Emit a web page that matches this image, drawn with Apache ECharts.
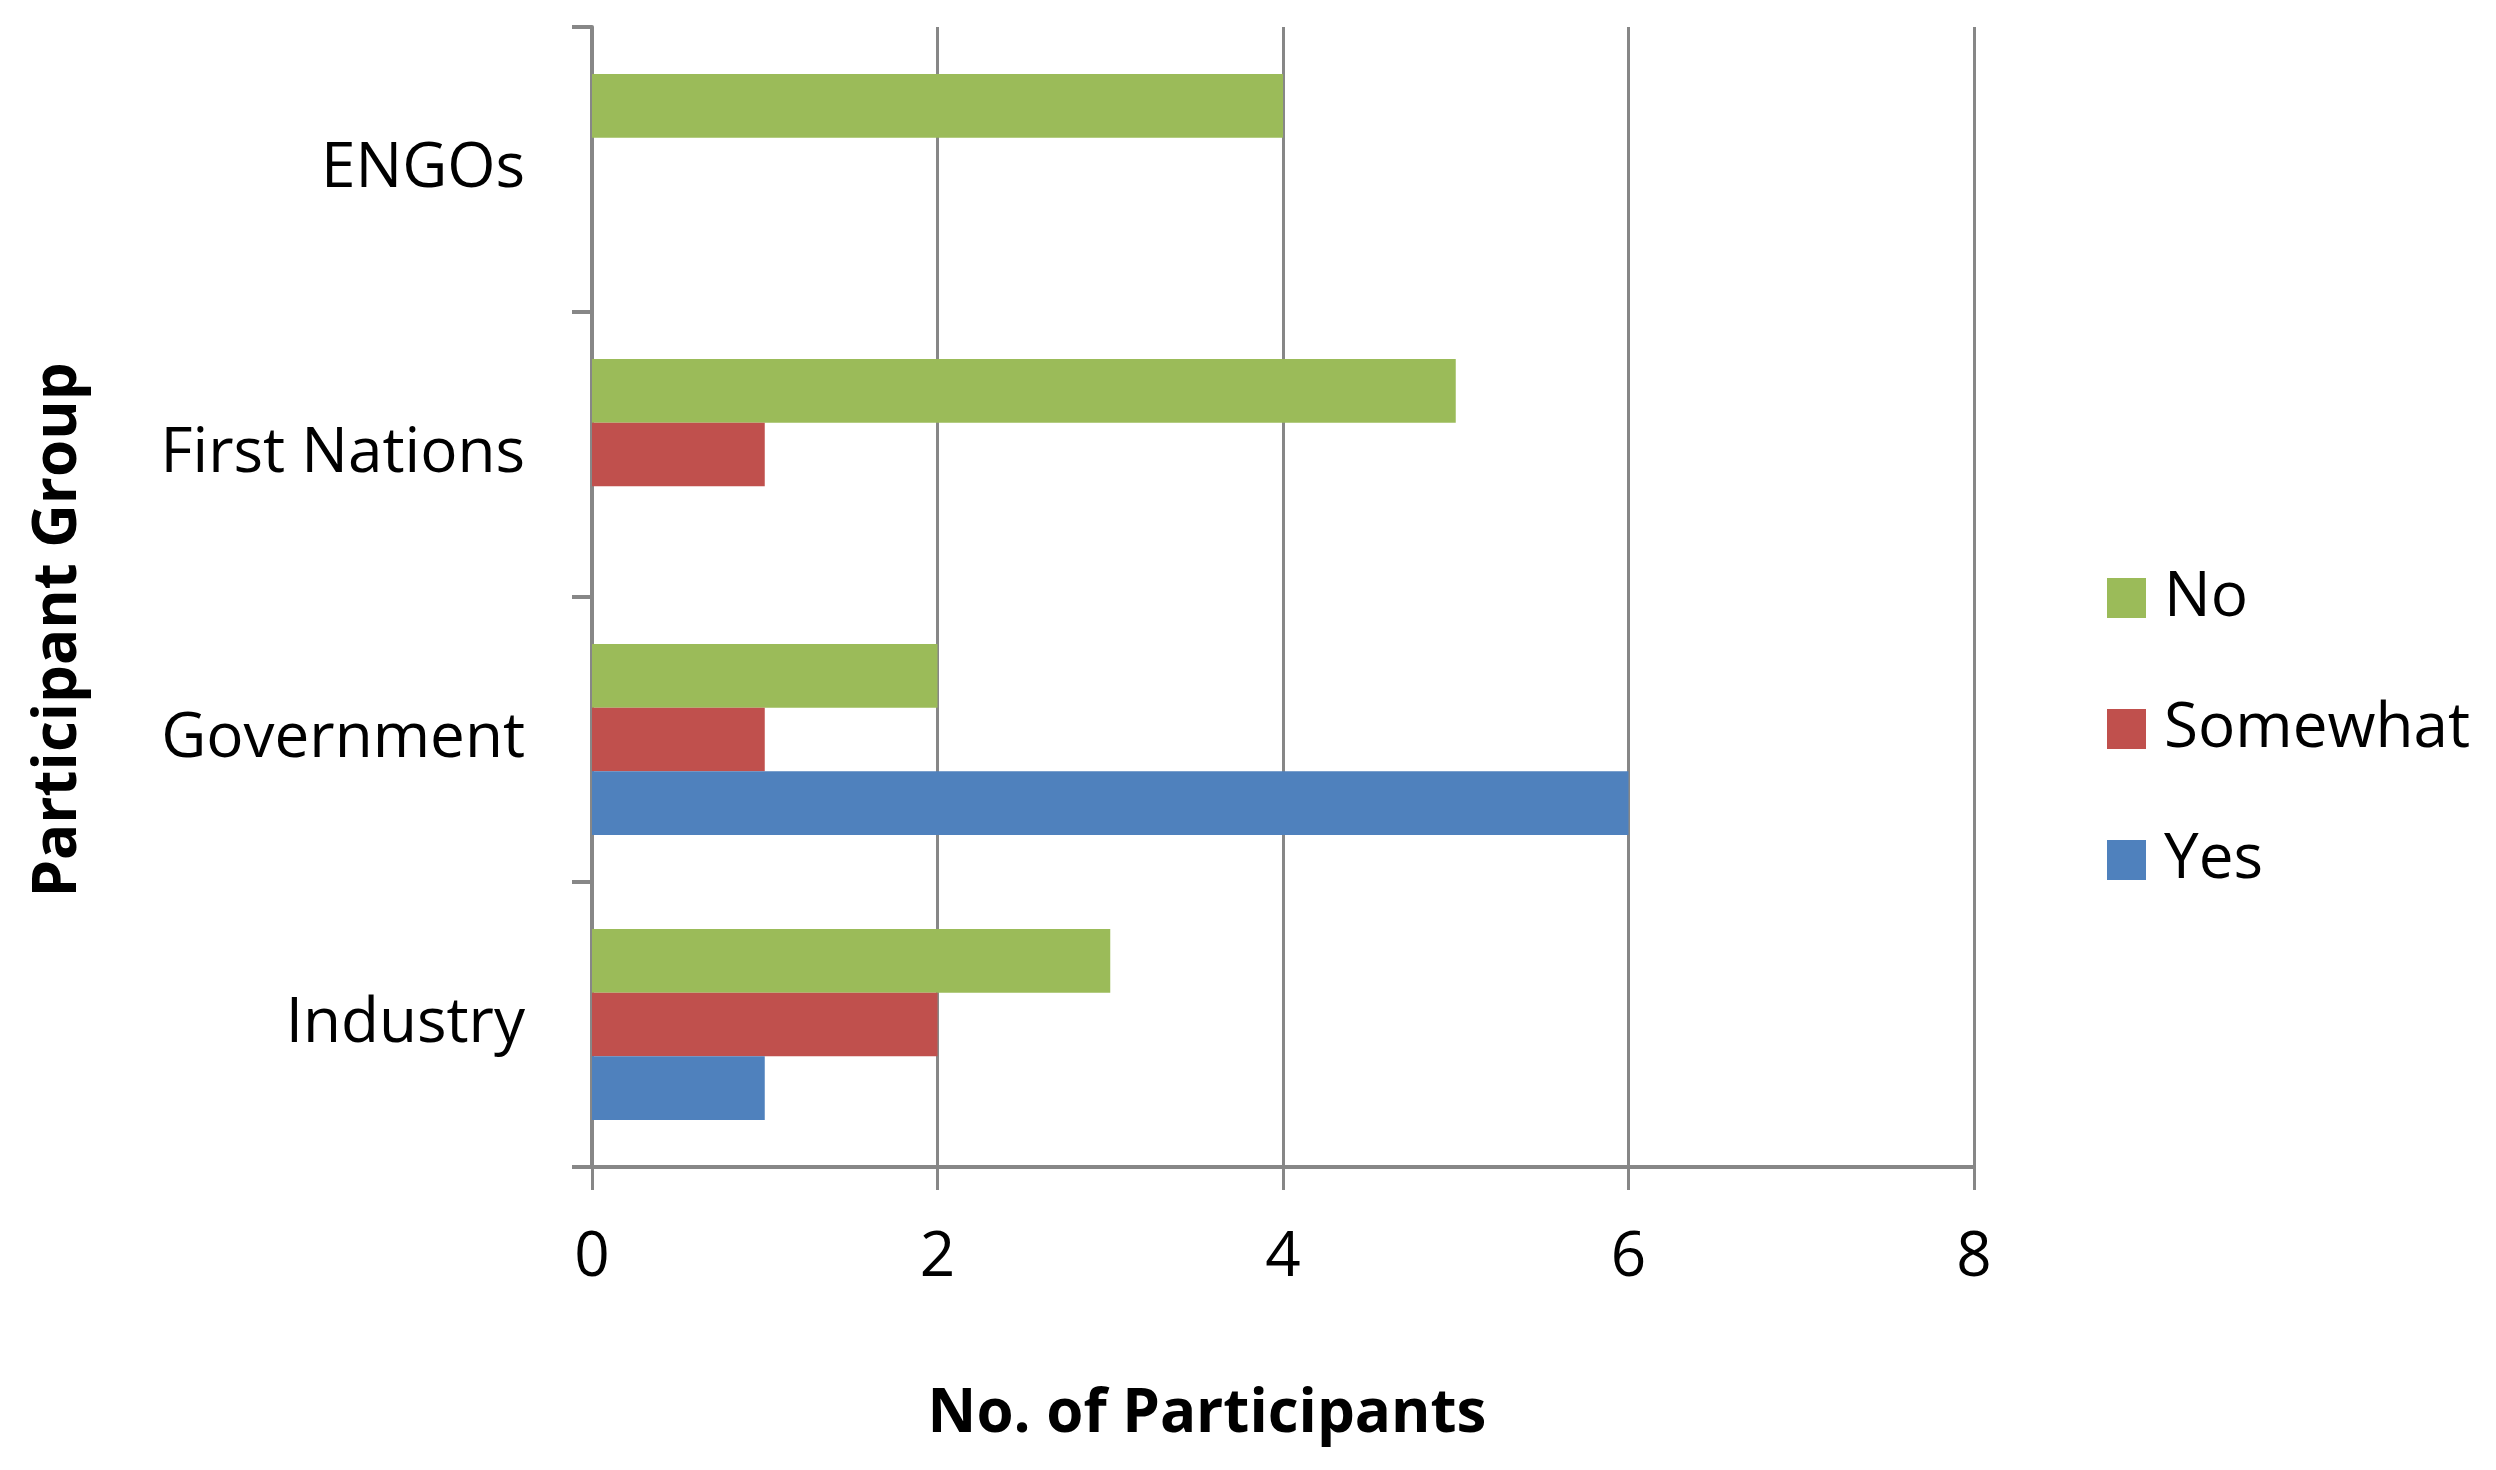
<!DOCTYPE html>
<html>
<head>
<meta charset="utf-8">
<script src="https://cdn.jsdelivr.net/npm/echarts@6/dist/echarts.min.js"></script>
<style>
html,body{margin:0;padding:0;background:#fff;}
#chart{width:2496px;height:1470px;}
</style>
</head>
<body>
<div id="chart"></div>
<script>
const categories = ['Industry', 'Government', 'First Nations', 'ENGOs'];
const seriesNames = ['No', 'Somewhat', 'Yes'];
const noValues = [3, 2, 5, 4];
const somewhatValues = [2, 1, 1, 0];
const yesValues = [1, 6, 0, 0];
const xTicks = [0, 2, 4, 6, 8];
const colors = { No: '#9BBB59', Somewhat: '#C0504D', Yes: '#4F81BD' };

const gray = '#878787';
const font = 'Open Sans';

const chart = echarts.init(document.getElementById('chart'), null, { renderer: 'canvas' });
chart.setOption({
  backgroundColor: '#fff',
  animation: false,
  textStyle: { fontFamily: font, color: '#000' },
  grid: { left: 592, right: 522, top: 27, bottom: 303, containLabel: false },
  legend: {
    orient: 'vertical',
    left: 2102,
    top: 562,
    itemWidth: 39,
    itemHeight: 40,
    itemGap: 69,
    icon: 'rect',
    data: seriesNames,
    textStyle: { fontFamily: font, fontSize: 62, color: '#000', padding: [0, 0, 0, 13] }
  },
  xAxis: {
    type: 'value',
    min: xTicks[0],
    max: xTicks[xTicks.length - 1],
    interval: 2,
    name: 'No. of Participants',
    nameLocation: 'middle',
    nameGap: 218,
    nameTextStyle: { fontFamily: font, fontWeight: 'bold', fontSize: 60, color: '#000', padding: [0, 152, 0, 0] },
    axisLine: { show: true, lineStyle: { color: gray, width: 4 } },
    axisTick: { show: true, length: 23, lineStyle: { color: gray, width: 3 } },
    axisLabel: { fontFamily: font, fontSize: 62, color: '#000', margin: 60 },
    splitLine: { show: true, lineStyle: { color: gray, width: 3 } }
  },
  yAxis: {
    type: 'category',
    data: categories,
    name: 'Participant Group',
    nameLocation: 'middle',
    nameGap: 503,
    nameTextStyle: { fontFamily: font, fontWeight: 'bold', fontSize: 60, color: '#000', padding: [0, 66, 0, 0] },
    axisLine: { show: true, lineStyle: { color: gray, width: 4 } },
    axisTick: { show: true, length: 20, lineStyle: { color: gray, width: 4 } },
    axisLabel: { fontFamily: font, fontSize: 62, color: '#000', margin: 67 },
    splitLine: { show: false }
  },
  series: [
    { name: 'No', type: 'bar', data: noValues, itemStyle: { color: colors.No }, barGap: '0%', barCategoryGap: '33%' },
    { name: 'Somewhat', type: 'bar', data: somewhatValues, itemStyle: { color: colors.Somewhat }, barGap: '0%', barCategoryGap: '33%' },
    { name: 'Yes', type: 'bar', data: yesValues, itemStyle: { color: colors.Yes }, barGap: '0%', barCategoryGap: '33%' }
  ]
});
</script>
</body>
</html>
